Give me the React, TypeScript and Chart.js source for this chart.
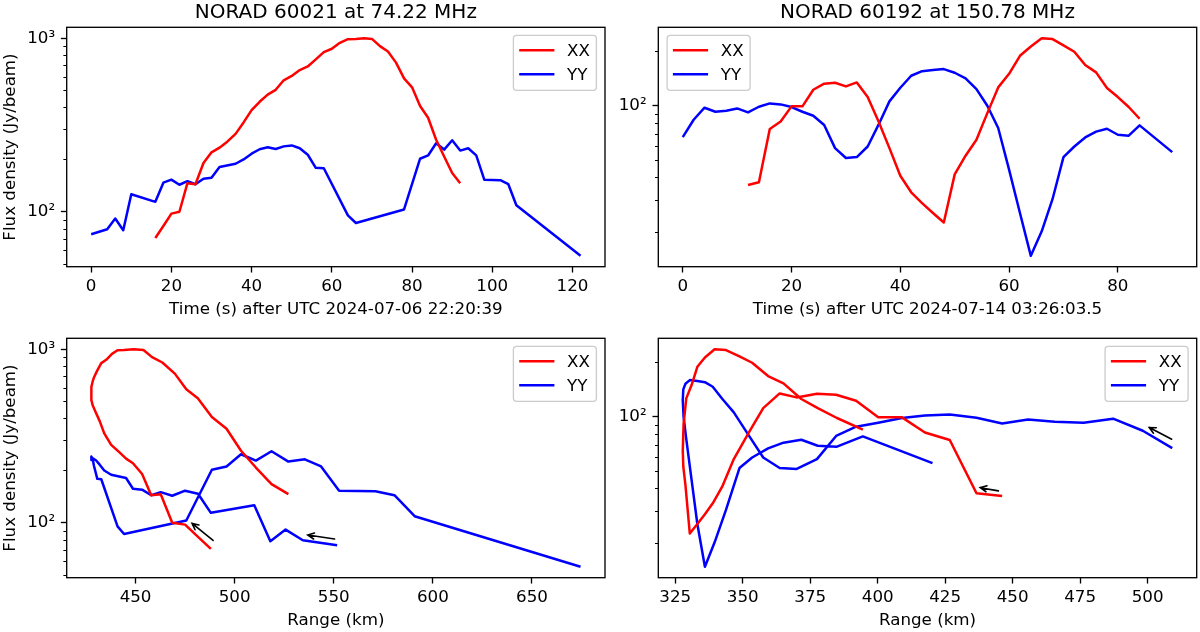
import { useEffect, useRef } from "react"
import { Chart, registerables } from "chart.js"

Chart.register(...registerables)

const FONT = "'DejaVu Sans', sans-serif"

// NORAD 60021 at 74.22 MHz: samples (s after 22:20:39), slant range (km), flux (Jy/beam)
const timeA = [
  0, 4, 6, 8, 10, 16, 18, 20, 22, 24, 26, 28, 30, 32, 34, 36, 38, 40, 42, 44, 46, 48, 50, 52, 54, 56,
  58, 60, 62, 64, 66, 68, 70, 72, 74, 76, 78, 80, 82, 84, 86, 88, 90, 92, 94, 96, 98, 102, 104, 106, 122,
]
const rangeA = [
  551.7, 534.4, 525.7, 518.0, 509.9, 488.0, 481.5, 475.0, 468.5, 462.7, 457.9, 453.3, 448.7, 445.2,
  441.9, 437.7, 434.2, 431.9, 430.0, 428.4, 427.8, 427.6, 427.8, 428.4, 429.0, 430.7, 432.7, 435.2,
  438.1, 440.9, 444.2, 449.0, 454.0, 458.3, 463.5, 469.8, 475.6, 481.4, 488.5, 495.9, 503.2, 510.7,
  518.6, 527.1, 535.4, 543.6, 552.7, 571.0, 580.6, 590.8, 674.5,
]
const xxA = [
  null, null, null, null, null, 70.6, 82.8, 97.5, 100, 146, 144, 191, 220, 234, 254, 281, 327, 385,
  430, 473, 504, 572, 606, 655, 687, 755, 831, 869, 940, 987, 990, 1000, 990, 900, 838, 723, 587, 521,
  407, 348, 260, 208, 167, 146, null, null, null, null, null, null, null,
]
const yyA = [
  74.2, 79.3, 91.3, 78.2, 126, 114, 147, 153, 143, 150, 144, 155, 157, 181, null, 189, 200, 216, 229,
  235, 230, 238, 241, 232, 213, 179, 178, null, null, 95.2, 86.1, null, null, null, null, null, 103,
  null, 202, 211, 248, 228, 258, 225, 232, 211, 153, 152, 144, 109, 55.7,
]

// NORAD 60192 at 150.78 MHz: samples (s after 03:26:03.5), slant range (km), flux (Jy/beam)
const timeB = [
  0, 2, 4, 6, 8, 10, 12, 14, 16, 18, 20, 22, 24, 26, 28, 30, 32, 34, 36, 38, 40, 42, 44, 46, 48, 50,
  52, 54, 56, 58, 60, 62, 64, 66, 68, 70, 72, 74, 76, 78, 80, 82, 84, 90,
]
const rangeB = [
  509.1, 498.2, 487.2, 476.3, 465.6, 455.7, 446.1, 436.6, 426.7, 417.5, 409.0, 400.2, 392.0, 384.6,
  377.5, 370.0, 363.7, 357.6, 352.3, 346.7, 342.4, 338.9, 336.0, 333.2, 330.4, 328.8, 328.0, 327.8,
  328.1, 329.1, 331.1, 333.2, 336.0, 339.6, 343.8, 348.8, 353.5, 359.4, 365.1, 371.7, 377.8, 384.9,
  394.5, 420.3,
]
const xxB = [
  null, null, null, null, null, null, 36.3, 37.6, 74.3, 81.8, 99.2, 99.2, 122.6, 132.5, 134.2, 128,
  134.7, 111.7, 81.8, 58.2, 40.9, 33.1, 28.8, 25.4, 22.5, 41.6, 52.8, 64.7, 91, 126.4, 150.4, 189.2,
  213.2, 237, 234.2, 216.2, 199.3, 168.2, 153.1, 125.4, 111.7, 98.4, 84.7, null,
]
const yyB = [
  67, 83.6, 97.5, 92.6, 93.8, 96.6, 91.8, 98.7, 103, 101.7, 98.3, 92.6, 88, 78.2, 58.2, 51.3, 51.9,
  59.4, 78.5, 105.7, 125.8, 146.7, 155.5, 157.7, 159.7, 152.4, 141.8, 123.7, 100, 75.2, 44.2, 25.4,
  14.7, 20.1, 30.4, 51.9, 59.4, 66.7, 71.8, 74.5, 69, 68.2, 77.8, 55.3,
]

// tick positions
const timeTicksA = [0, 20, 40, 60, 80, 100, 120]
const timeTicksB = [0, 20, 40, 60, 80]
const rangeTicksA = [450, 500, 550, 600, 650]
const rangeTicksB = [325, 350, 375, 400, 425, 450, 475, 500]
const fluxDecades = [10, 100, 1000]

// direction-of-motion arrows, [range, flux] tail -> head
const arrowsA = [
  { from: [489.1, 79.0], to: [478.5, 99.1] },
  { from: [550.4, 80.5], to: [536.9, 84.9] },
]
const arrowsB = [
  { from: [444.7, 38.8], to: [438.0, 40.4] },
  { from: [508.9, 75.0], to: [500.6, 87.1] },
]

const W = 1200
const H = 632
const FS = 16.7
const YW = 50
const XH = 45
const SUP: Record<string, string> = { "0": "⁰", "1": "¹", "2": "²", "3": "³", "4": "⁴" }

type Arrow = { from: number[]; to: number[] }
type Panel = {
  box: number[]
  xs: number[]
  xx: (number | null)[]
  yy: (number | null)[]
  xTicks: number[]
  title?: string
  xLabel: string
  yLabel?: string
  legendSide: "left" | "right"
  arrows?: Arrow[]
}

const panels: Panel[] = [
  {
    box: [66.7, 27.3, 605, 266.7], xs: timeA, xx: xxA, yy: yyA, xTicks: timeTicksA,
    title: "NORAD 60021 at 74.22 MHz", xLabel: "Time (s) after UTC 2024-07-06 22:20:39",
    yLabel: "Flux density (Jy/beam)", legendSide: "right",
  },
  {
    box: [658.3, 27.3, 1196.7, 266.7], xs: timeB, xx: xxB, yy: yyB, xTicks: timeTicksB,
    title: "NORAD 60192 at 150.78 MHz", xLabel: "Time (s) after UTC 2024-07-14 03:26:03.5",
    legendSide: "left",
  },
  {
    box: [66.7, 338.3, 605, 577.7], xs: rangeA, xx: xxA, yy: yyA, xTicks: rangeTicksA,
    xLabel: "Range (km)", yLabel: "Flux density (Jy/beam)", legendSide: "right", arrows: arrowsA,
  },
  {
    box: [658.3, 338.3, 1196.7, 577.7], xs: rangeB, xx: xxB, yy: yyB, xTicks: rangeTicksB,
    xLabel: "Range (km)", legendSide: "right", arrows: arrowsB,
  },
]

const points = (xs: number[], ys: (number | null)[]) =>
  xs.map((x, i) => ({ x, y: ys[i] })).filter((p) => p.y !== null && p.x !== null) as { x: number; y: number }[]

// matplotlib-like 5% autoscale margins
const linLimits = (v: number[]) => {
  const lo = Math.min(...v)
  const hi = Math.max(...v)
  const pad = (hi - lo) * 0.05
  return [lo - pad, hi + pad]
}
const logLimits = (v: number[]) => {
  const lo = Math.log10(Math.min(...v))
  const hi = Math.log10(Math.max(...v))
  const pad = (hi - lo) * 0.05
  return [10 ** (lo - pad), 10 ** (hi + pad)]
}

function makeDecor(p: Panel) {
  return {
    id: "decor",
    afterDraw(chart: any) {
      const { ctx, chartArea: a, scales } = chart
      const xs = scales.x
      const ys = scales.y
      ctx.save()

      // minor log ticks
      ctx.strokeStyle = "#000"
      ctx.lineWidth = 1
      const d0 = Math.floor(Math.log10(ys.min))
      const d1 = Math.ceil(Math.log10(ys.max))
      for (let d = d0; d <= d1; d++) {
        for (let k = 2; k <= 9; k++) {
          const v = k * 10 ** d
          if (v <= ys.min || v >= ys.max) continue
          const py = Math.round(ys.getPixelForValue(v)) + 0.5
          ctx.beginPath()
          ctx.moveTo(a.left, py)
          ctx.lineTo(a.left - 3.33, py)
          ctx.stroke()
        }
      }

      // frame
      ctx.lineWidth = 1.33
      ctx.strokeRect(a.left, a.top, a.right - a.left, a.bottom - a.top)

      // arrows
      for (const ar of p.arrows || []) {
        const x0 = xs.getPixelForValue(ar.from[0])
        const y0 = ys.getPixelForValue(ar.from[1])
        const x1 = xs.getPixelForValue(ar.to[0])
        const y1 = ys.getPixelForValue(ar.to[1])
        const ang = Math.atan2(y1 - y0, x1 - x0)
        const hl = 7
        ctx.lineWidth = 1.6
        ctx.lineCap = "round"
        ctx.beginPath()
        ctx.moveTo(x0, y0)
        ctx.lineTo(x1, y1)
        ctx.moveTo(x1 - hl * Math.cos(ang - 0.45), y1 - hl * Math.sin(ang - 0.45))
        ctx.lineTo(x1, y1)
        ctx.lineTo(x1 - hl * Math.cos(ang + 0.45), y1 - hl * Math.sin(ang + 0.45))
        ctx.stroke()
      }

      // legend
      const lw = 83
      const lh = 55
      const lx = p.legendSide === "right" ? a.right - 8.6 - lw : a.left + 8.8
      const ly = a.top + 8
      ctx.beginPath()
      ctx.roundRect(lx, ly, lw, lh, 3.3)
      ctx.fillStyle = "rgba(255,255,255,0.8)"
      ctx.fill()
      ctx.strokeStyle = "#cccccc"
      ctx.lineWidth = 1.33
      ctx.stroke()
      const entries = [
        { label: "XX", color: "#ff0000" },
        { label: "YY", color: "#0000ff" },
      ]
      ctx.font = `${FS}px ${FONT}`
      ctx.textAlign = "left"
      ctx.textBaseline = "alphabetic"
      entries.forEach((e, i) => {
        const ry = ly + 15 + i * 24
        ctx.strokeStyle = e.color
        ctx.lineWidth = 2.5
        ctx.lineCap = "butt"
        ctx.beginPath()
        ctx.moveTo(lx + 5.8, ry)
        ctx.lineTo(lx + 41, ry)
        ctx.stroke()
        ctx.fillStyle = "#000"
        ctx.fillText(e.label, lx + 53.6, ry + 6.1)
      })

      // titles and axis labels
      const cx = (a.left + a.right) / 2
      ctx.fillStyle = "#000"
      ctx.textAlign = "center"
      if (p.title) {
        ctx.font = `20px ${FONT}`
        ctx.fillText(p.title, cx, a.top - 9.5)
      }
      ctx.font = `${FS}px ${FONT}`
      ctx.fillText(p.xLabel, cx, a.bottom + 47.4)
      if (p.yLabel) {
        ctx.translate(15, (a.top + a.bottom) / 2)
        ctx.rotate(-Math.PI / 2)
        ctx.fillText(p.yLabel, 0, 0)
      }
      ctx.restore()
    },
  }
}

function buildConfig(p: Panel): any {
  const xxPts = points(p.xs, p.xx)
  const yyPts = points(p.xs, p.yy)
  const all = [...xxPts, ...yyPts]
  const [xMin, xMax] = linLimits(all.map((q) => q.x))
  const [yMin, yMax] = logLimits(all.map((q) => q.y))
  const tickFont = { family: FONT, size: FS }
  const grid = {
    display: true,
    drawOnChartArea: false,
    drawTicks: true,
    tickLength: 5.83,
    tickWidth: 1.33,
    tickColor: "#000",
  }
  const line = (label: string, data: any[], color: string) => ({
    label,
    data,
    borderColor: color,
    backgroundColor: color,
    borderWidth: 2.5,
    pointRadius: 0,
    tension: 0,
    fill: false,
    borderJoinStyle: "round",
  })
  return {
    type: "line",
    data: { datasets: [line("XX", xxPts, "#ff0000"), line("YY", yyPts, "#0000ff")] },
    options: {
      responsive: false,
      animation: false,
      events: [],
      layout: {
        padding: { left: p.box[0] - YW, top: p.box[1], right: W - p.box[2], bottom: H - p.box[3] - XH },
      },
      plugins: { legend: { display: false }, tooltip: { enabled: false }, title: { display: false } },
      scales: {
        x: {
          type: "linear",
          min: xMin,
          max: xMax,
          afterBuildTicks: (s: any) => {
            s.ticks = p.xTicks.map((v) => ({ value: v }))
          },
          afterFit: (s: any) => {
            s.height = XH
          },
          ticks: { callback: (v: number) => String(v), color: "#000", font: tickFont, padding: 4.5, maxRotation: 0, autoSkip: false },
          grid,
          border: { display: false },
        },
        y: {
          type: "logarithmic",
          min: yMin,
          max: yMax,
          afterBuildTicks: (s: any) => {
            s.ticks = fluxDecades.filter((v) => v >= yMin && v <= yMax).map((v) => ({ value: v }))
          },
          afterFit: (s: any) => {
            s.width = YW
          },
          ticks: {
            callback: (v: number) => "10" + SUP[String(Math.round(Math.log10(v)))],
            color: "#000",
            font: tickFont,
            padding: 5.8,
          },
          grid,
          border: { display: false },
        },
      },
    },
    plugins: [makeDecor(p)],
  }
}

export default function App() {
  const refs = useRef<(HTMLCanvasElement | null)[]>([])

  useEffect(() => {
    Chart.defaults.font.family = FONT
    const charts = panels.map((p, i) => new Chart(refs.current[i] as HTMLCanvasElement, buildConfig(p)))
    return () => charts.forEach((c) => c.destroy())
  }, [])

  return (
    <div style={{ position: "absolute", left: 0, top: 0, width: W, height: H, background: "#fff", overflow: "hidden" }}>
      {panels.map((_, i) => (
        <canvas
          key={i}
          ref={(el) => {
            refs.current[i] = el
          }}
          width={W}
          height={H}
          style={{ position: "absolute", left: 0, top: 0, width: W, height: H }}
        />
      ))}
    </div>
  )
}
